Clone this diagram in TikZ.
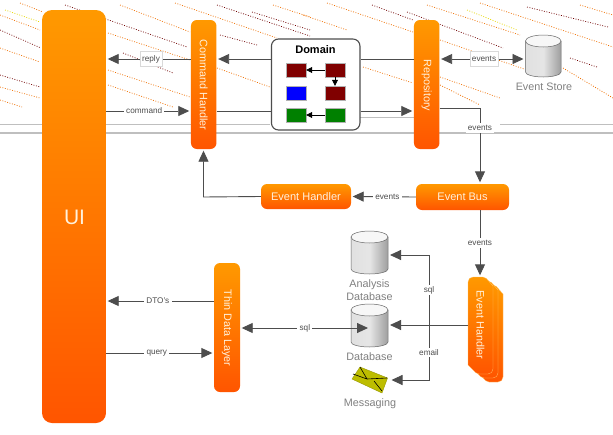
\documentclass[tikz,border=0pt]{standalone}
\usepackage{fontspec}
\setmainfont{Liberation Sans}
\usetikzlibrary{arrows.meta,calc}
\definecolor{ln}{HTML}{4D4D4D}
\definecolor{orT}{HTML}{FF9900}
\definecolor{orB}{HTML}{FF5500}
\definecolor{ntxt}{HTML}{FFF2DC}
\definecolor{dbtxt}{HTML}{808080}
\definecolor{nOr}{HTML}{F07000}
\definecolor{nRed}{HTML}{700000}
\definecolor{nYel}{HTML}{E8D800}
\definecolor{envc}{HTML}{BDBD00}
\tikzset{
  x=1pt,y=-1pt,
  orbox/.style={rounded corners=#1,top color=orT,bottom color=orB,draw=none,text=ntxt,inner sep=0pt,font=\fontsize{11}{13}\selectfont},
  orbox/.default=6pt,
  vtext/.style={text=ntxt,rotate=-90,font=\fontsize{10.8}{13}\selectfont,inner sep=0pt},
  conn/.style={draw=ln,line width=.9pt},
  arr/.style={conn,-{Triangle[length=11pt,width=10pt,color=ln]},shorten >=1.5pt},
  biarr/.style={conn,{Triangle[length=11pt,width=10pt,color=ln]}-{Triangle[length=11pt,width=10pt,color=ln]},shorten >=1.5pt,shorten <=1.5pt},
  lab/.style={fill=white,inner sep=2.2pt,text=ln,font=\fontsize{8.2}{10}\selectfont},
  labb/.style={lab,draw=black!15,line width=.5pt,minimum height=15pt},
  dom/.style={draw=black!30,line width=.4pt,minimum width=20pt,minimum height=14pt,inner sep=0pt},
  tinya/.style={draw=black,line width=.7pt,-{Triangle[length=6pt,width=6pt]}},
  dbl/.style={text=dbtxt,font=\fontsize{10.8}{13}\selectfont,align=center,inner sep=0pt},
  noiseO/.style={nOr,line width=.7pt,dash pattern=on .9pt off 1.6pt},
  noiseR/.style={nRed,line width=.7pt,dash pattern=on .9pt off 1.6pt},
  noiseY/.style={nYel,line width=.7pt,dash pattern=on .9pt off 1.6pt},
  band/.style={black!25},
}
\newcommand{\mycyl}[5]{% x1 x2 top bottom name
  \path[left color=black!12,right color=black!38,middle color=black!10,draw=black!60,line width=.5pt]
    (#1,#3+6) -- (#1,#4-5) arc[start angle=180,end angle=0,x radius={(#2-#1)/2},y radius=5] -- (#2,#3+6) -- cycle;
  \path[fill=black!3,draw=black!60,line width=.5pt] ({(#1+#2)/2},#3+6) ellipse[x radius={(#2-#1)/2},y radius=6];
  \coordinate (#5) at ({(#1+#2)/2},{(#3+#4)/2});
}
\newcommand{\ehshape}[2]{% dx dy
  \path[top color=orT,bottom color=orB,draw=orT!60!white,line width=.3pt]
    (468+#1+5,277+#2) [rounded corners=5pt] -- (468+#1,277+#2) [sharp corners] -- (468+#1,374+#2-9) [rounded corners=2pt] -- (468+#1+9,374+#2) [rounded corners=5pt] -- (468+#1+25,374+#2) [sharp corners] -- (468+#1+25,277+#2+9) [rounded corners=2pt] -- (468+#1+17,277+#2) [sharp corners] -- cycle;
}
\begin{document}
\begin{tikzpicture}
\useasboundingbox[fill=white] (0,0) rectangle (613,434);
% background streaks and bands of the reference
\foreach \a/\b/\c/\d in {175/3/277/38,120/5/190/32,20/3/43/12,0/48/40/62,0/87/40/98,0/100/22/107,108/33/190/60,108/70/190/97,108/85/173/107,217/68/270/87,327/3/413/32,440/40/527/70,480/3/613/47,580/5/613/15,427/5/520/35,303/15/347/30,363/67/413/83,440/77/500/98,440/85/480/105,563/68/613/98,273/5/310/17,0/15/40/30}
  \draw[noiseO] (\a,\b) -- (\c,\d);
\foreach \a/\b/\c/\d in {217/5/310/36,252/12/310/30,65/5/187/47,0/30/41/48,0/75/40/87,123/53/173/73,220/35/257/45,372/5/413/20,527/7/608/27,407/12/503/48,570/58/597/67}
  \draw[noiseR] (\a,\b) -- (\c,\d);
\foreach \a/\b/\c/\d in {467/10/517/30,5/10/40/22}
  \draw[noiseY] (\a,\b) -- (\c,\d);
\fill[band] (0,131.5) rectangle (613,133.5);
\fill[band] (0,124) rectangle (270,124.7);
\fill[band] (500,124) rectangle (613,124.7);
\fill[band] (360,117) rectangle (414,117.7);

% reference coordinates for connector levels
\coordinate (y59) at (0,59);
\coordinate (y111) at (0,111);
\coordinate (y108) at (0,108);
\coordinate (y197) at (0,197);
\coordinate (y301) at (0,301);
\coordinate (y353) at (0,353);
\coordinate (y328) at (0,328);
\coordinate (y325) at (0,325);
\coordinate (y255) at (0,255);
\coordinate (y380) at (0,380);
\coordinate (x480) at (480,0);
\coordinate (x429) at (429,0);
\coordinate (x204) at (203.5,0);

% main nodes
\node[orbox=10pt,minimum width=64pt,minimum height=413pt] (ui) at (74,216.5) {};
\node[text=ntxt,font=\fontsize{21}{23}\selectfont,inner sep=0pt] (uit) at (74.5,217) {UI};
\node[orbox,minimum width=25.5pt,minimum height=129pt] (ch) at (203.7,84.5) {};
\node[vtext] (cht) at (203.7,85) {Command Handler};
\node[orbox,minimum width=25.5pt,minimum height=129pt] (repo) at (426.7,84.5) {};
\node[vtext] (repot) at (426.7,85.5) {Repository};
\node[draw=ln,line width=1.1pt,fill=white,rounded corners=7pt,minimum width=88.5pt,minimum height=91pt] (domain) at (315.7,84.5) {};
\node[font=\fontsize{11}{13}\selectfont\bfseries,inner sep=0pt] (domt) at (315.5,50) {Domain};
\node[dom,fill={rgb,255:red,128;green,0;blue,0}] (d1) at (296,70) {};
\node[dom,fill={rgb,255:red,128;green,0;blue,0}] (d2) at (335,70) {};
\node[dom,fill=blue] (d3) at (296,93) {};
\node[dom,fill={rgb,255:red,128;green,0;blue,0}] (d4) at (335,93) {};
\node[dom,fill={rgb,255:red,0;green,128;blue,0}] (d5) at (296,115) {};
\node[dom,fill={rgb,255:red,0;green,128;blue,0}] (d6) at (335,115) {};
\draw[tinya] (d2) -- (d1);
\draw[tinya] (d2) -- (d4);
\draw[tinya] (d6) -- (d5);
\node[orbox,minimum width=90pt,minimum height=25pt] (eh) at (306,196.5) {Event Handler};
\node[orbox,minimum width=93pt,minimum height=26pt] (bus) at (462.5,197) {Event Bus};
\node[orbox,minimum width=26pt,minimum height=129pt] (thin) at (227,327.5) {};
\node[vtext] (thint) at (227,328) {Thin Data Layer};

% stacked event handler
\ehshape{10}{8}
\ehshape{5}{4}
\ehshape{0}{0}
\node[minimum width=25pt,minimum height=97pt,inner sep=0pt] (eh2) at (480.5,325.5) {};
\node[vtext] (eh2t) at (480.5,325) {Event Handler};

% stores
\mycyl{525.5}{561}{35}{77}{es}
\node[dbl] (esl) at (544,87) {Event Store};
\mycyl{351}{388}{231}{274}{adb}
\node[dbl] (adbl) at (369.5,290.5) {Analysis\\Database};
\mycyl{351}{388}{304}{347}{db}
\node[dbl] (dbl1) at (369.5,356.5) {Database};
\path[fill=envc,draw=envc!80!black,line width=.4pt] (352,379) -- (360,367) -- (387.5,378) -- (382,393) -- cycle;
\draw[line width=.6pt] (353,374) -- (367,379) -- (387,378) (360,367) -- (367,379) (374,381) -- (382,391);
\coordinate (msg) at (390,380);
\node[dbl] (msgl) at (370,404) {Messaging};

% connectors
\draw[arr] (ch.west |- y59) -- node[labb,pos=.47] {reply} (ui.east |- y59);
\draw[arr] (domain.west |- y59) -- (ch.east |- y59);
\draw[conn] (repo.west |- y59) -- (domain.east |- y59);
\draw[arr] (ui.east |- y111) -- node[lab,pos=.45] {command} (ch.west |- y111);
\draw[conn] (ch.east |- y111) -- (domain.west |- y111);
\draw[arr] (domain.east |- y111) -- (repo.west |- y111);
\draw[biarr] (repo.east |- y59) -- node[labb,pos=.52] {events} (525,59);
\draw[conn] (repo.east |- y108) -- (x480 |- y108);
\draw[arr] (x480 |- y108) -- node[lab,pos=.26] {events} (bus.north -| x480);
\draw[arr] (bus.west) -- node[lab,pos=.44] {events} (eh.east);
\draw[arr] (eh.west) -- (x204 |- y197) -- (ch.south -| x204);
\draw[arr] (bus.south -| x480) -- node[lab,pos=.49] {events} (eh2.north -| x480);
\draw[arr] (thin.west |- y301) -- node[lab,pos=.52] {DTO's} (ui.east |- y301);
\draw[arr] (ui.east |- y353) -- node[lab,pos=.47] {query} (thin.west |- y353);
\draw[biarr] (db.west |- y328) -- node[lab,pos=.5] {sql} (thin.east |- y328);
\draw[conn] (eh2.west |- y325) -- (x429 |- y325);
\draw[arr] (x429 |- y325) -- (388.5,325);
\draw[arr] (x429 |- y325) -- node[lab,pos=.5,inner sep=1.5pt] {sql} (x429 |- y255) -- (388.5,255);
\draw[arr] (x429 |- y325) -- node[lab,pos=.5,inner sep=1.5pt] {email} (x429 |- y380) -- (msg);
\end{tikzpicture}
\end{document}
